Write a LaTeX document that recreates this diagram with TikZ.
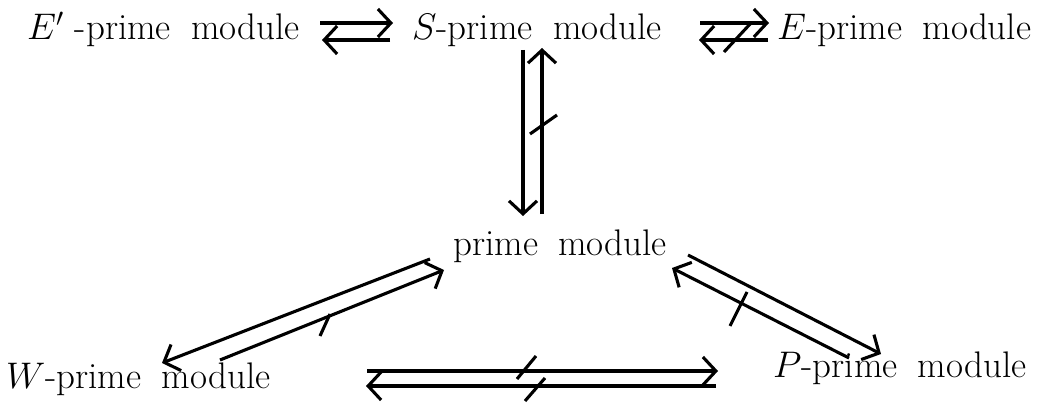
\documentclass[tikz,border=0pt]{standalone}
\usepackage{fix-cm}
\usepackage{fontspec}
\usetikzlibrary{arrows.meta}
\newcommand{\PMod}{prime\hskip 0.55em module}
\tikzset{
  lbl/.style={inner sep=0pt, anchor=base west, font=\fontsize{37}{43}\selectfont},
  conn/.style={line width=3.1pt, -{Straight Barb[length=13pt,width=28pt]}},
  neg/.style={line width=3.1pt}
}
\begin{document}
\begin{tikzpicture}[x=1pt,y=-1pt]
\useasboundingbox (0,0) rectangle (1042,404);
% labels
\node[lbl] (ep) at (27,40) {$E'$ -\PMod};
\node[lbl] (sp) at (412,40) {$S$-\PMod};
\node[lbl] (epr) at (777,40) {$E$-\PMod};
\node[lbl] (pm) at (453,255) {\PMod};
\node[lbl] (wp) at (6,388) {$W$-\PMod};
\node[lbl] (pp) at (773,377) {$P$-\PMod};
% coordinates of connector ends
\coordinate (esA) at (320,23); \coordinate (esB) at (393,23);
\coordinate (seA) at (390,40); \coordinate (seB) at (322,40);
\coordinate (seeA) at (700,23); \coordinate (seeB) at (769,23);
\coordinate (eesA) at (768,40); \coordinate (eesB) at (699,40);
\coordinate (n1a) at (724,52); \coordinate (n1b) at (751,23);
\coordinate (spA) at (523,50); \coordinate (spB) at (523,216);
\coordinate (psA) at (542,214); \coordinate (psB) at (542,48);
\coordinate (n2a) at (530,134); \coordinate (n2b) at (557,115);
\coordinate (pwA) at (430,259); \coordinate (pwB) at (162,363);
\coordinate (wpA) at (220,360); \coordinate (wpB) at (444,270);
\coordinate (n3a) at (320,336); \coordinate (n3b) at (330,314);
\coordinate (ppA) at (688,255); \coordinate (ppB) at (881,354);
\coordinate (qpA) at (849,358); \coordinate (qpB) at (672,268);
\coordinate (n4a) at (730,326); \coordinate (n4b) at (747,292);
\coordinate (wqA) at (367,371); \coordinate (wqB) at (718,371);
\coordinate (qwA) at (716,386); \coordinate (qwB) at (366,386);
\coordinate (n5a) at (517,379); \coordinate (n5b) at (536,356);
\coordinate (n6a) at (525,401); \coordinate (n6b) at (545,378);
% connectors
\draw[conn] (esA) -- (esB);
\draw[conn] (seA) -- (seB);
\draw[conn] (seeA) -- (seeB);
\draw[conn] (eesA) -- (eesB);
\draw[neg] (n1a) -- (n1b);
\draw[conn] (spA) -- (spB);
\draw[conn] (psA) -- (psB);
\draw[neg] (n2a) -- (n2b);
\draw[conn] (pwA) -- (pwB);
\draw[conn] (wpA) -- (wpB);
\draw[neg] (n3a) -- (n3b);
\draw[conn] (ppA) -- (ppB);
\draw[conn] (qpA) -- (qpB);
\draw[neg] (n4a) -- (n4b);
\draw[conn] (wqA) -- (wqB);
\draw[conn] (qwA) -- (qwB);
\draw[neg] (n5a) -- (n5b);
\draw[neg] (n6a) -- (n6b);
\end{tikzpicture}
\end{document}
